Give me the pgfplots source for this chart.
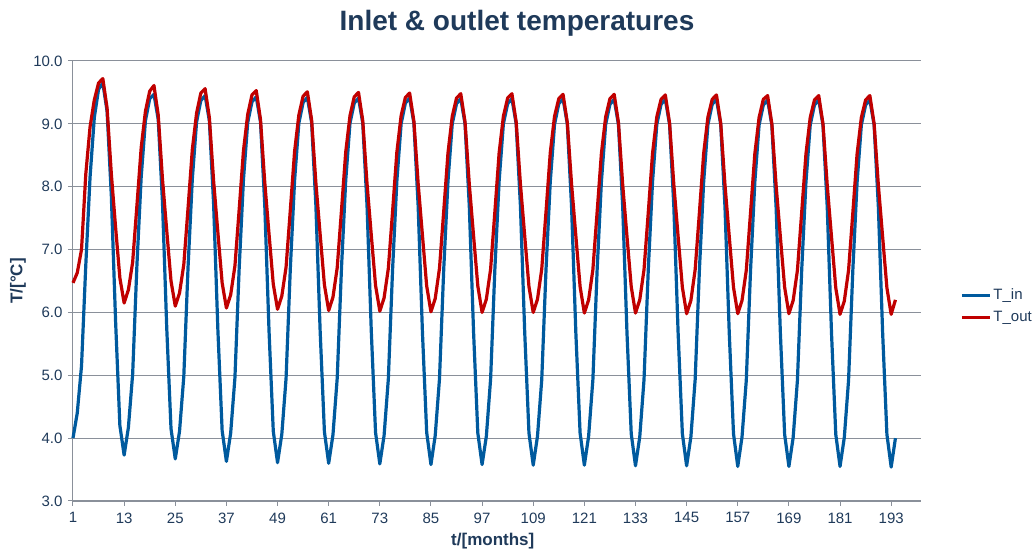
\documentclass[border=0pt]{standalone}
\usepackage{fontspec}
\setmainfont{Liberation Sans}
\usepackage{pgfplots}
\usepackage{pgfplotstable}
\pgfplotsset{compat=1.18}
\definecolor{navy}{HTML}{1F3A5A}
\definecolor{gridgray}{HTML}{8A909A}
\definecolor{tinblue}{HTML}{005A9E}
\definecolor{toutred}{HTML}{C00000}
\pgfplotstableread{
m Tin Tout
1 4.00 6.47
2 4.40 6.63
3 5.15 7.00
4 6.75 8.20
5 8.15 8.95
6 9.10 9.38
7 9.55 9.65
8 9.65 9.72
9 9.20 9.25
10 7.85 8.20
11 5.85 7.35
12 4.20 6.55
13 3.73 6.15
14 4.17 6.36
15 5.02 6.80
16 6.75 7.70
17 8.15 8.62
18 9.05 9.20
19 9.40 9.52
20 9.47 9.61
21 9.07 9.14
22 7.75 8.12
23 5.75 7.30
24 4.15 6.50
25 3.67 6.10
26 4.11 6.31
27 4.98 6.76
28 6.72 7.66
29 8.12 8.59
30 9.03 9.17
31 9.37 9.49
32 9.45 9.56
33 9.05 9.10
34 7.72 8.09
35 5.72 7.27
36 4.12 6.47
37 3.63 6.07
38 4.08 6.28
39 4.96 6.74
40 6.71 7.64
41 8.11 8.57
42 9.02 9.15
43 9.35 9.46
44 9.43 9.53
45 9.03 9.07
46 7.71 8.07
47 5.71 7.25
48 4.11 6.45
49 3.61 6.05
50 4.06 6.26
51 4.95 6.72
52 6.70 7.63
53 8.10 8.56
54 9.01 9.14
55 9.34 9.44
56 9.42 9.51
57 9.02 9.06
58 7.70 8.06
59 5.70 7.24
60 4.10 6.44
61 3.60 6.03
62 4.05 6.24
63 4.95 6.71
64 6.70 7.62
65 8.10 8.55
66 9.01 9.13
67 9.33 9.43
68 9.41 9.50
69 9.01 9.05
70 7.70 8.05
71 5.70 7.23
72 4.09 6.43
73 3.59 6.02
74 4.04 6.23
75 4.94 6.70
76 6.69 7.61
77 8.09 8.55
78 9.00 9.13
79 9.33 9.42
80 9.41 9.49
81 9.01 9.04
82 7.69 8.05
83 5.69 7.23
84 4.09 6.42
85 3.58 6.01
86 4.04 6.22
87 4.94 6.70
88 6.69 7.61
89 8.09 8.54
90 9.00 9.12
91 9.32 9.41
92 9.40 9.48
93 9.00 9.03
94 7.69 8.04
95 5.69 7.22
96 4.08 6.42
97 3.58 6.00
98 4.03 6.21
99 4.94 6.69
100 6.69 7.60
101 8.09 8.54
102 9.00 9.12
103 9.32 9.41
104 9.40 9.48
105 9.00 9.03
106 7.69 8.04
107 5.69 7.22
108 4.08 6.41
109 3.57 6.00
110 4.03 6.21
111 4.93 6.69
112 6.68 7.60
113 8.08 8.54
114 8.99 9.12
115 9.32 9.40
116 9.40 9.47
117 9.00 9.02
118 7.68 8.04
119 5.68 7.22
120 4.08 6.41
121 3.57 5.99
122 4.03 6.20
123 4.93 6.68
124 6.68 7.60
125 8.08 8.53
126 8.99 9.11
127 9.31 9.40
128 9.39 9.47
129 8.99 9.02
130 7.68 8.03
131 5.68 7.21
132 4.07 6.41
133 3.56 5.99
134 4.02 6.20
135 4.93 6.68
136 6.68 7.59
137 8.08 8.53
138 8.99 9.11
139 9.31 9.39
140 9.39 9.46
141 8.99 9.01
142 7.68 8.03
143 5.68 7.21
144 4.07 6.40
145 3.56 5.98
146 4.02 6.19
147 4.93 6.68
148 6.68 7.59
149 8.08 8.53
150 8.99 9.11
151 9.31 9.39
152 9.39 9.46
153 8.99 9.01
154 7.68 8.03
155 5.68 7.21
156 4.07 6.40
157 3.55 5.98
158 4.02 6.19
159 4.92 6.67
160 6.67 7.59
161 8.07 8.52
162 8.98 9.10
163 9.30 9.39
164 9.38 9.45
165 8.98 9.00
166 7.67 8.02
167 5.67 7.20
168 4.06 6.40
169 3.55 5.98
170 4.01 6.19
171 4.92 6.67
172 6.67 7.59
173 8.07 8.52
174 8.98 9.10
175 9.30 9.38
176 9.38 9.45
177 8.98 9.00
178 7.67 8.02
179 5.67 7.20
180 4.06 6.39
181 3.55 5.97
182 4.01 6.18
183 4.92 6.67
184 6.67 7.58
185 8.07 8.52
186 8.98 9.10
187 9.30 9.38
188 9.38 9.45
189 8.98 9.00
190 7.67 8.02
191 5.67 7.20
192 4.06 6.39
193 3.54 5.97
194 4.00 6.20
}\datatable
\begin{document}
\begin{tikzpicture}
\path[use as bounding box] (-73pt,-50pt) rectangle (961pt,501pt);
\begin{axis}[
  at={(0pt,0pt)}, anchor=south west,
  scale only axis,
  width=848pt, height=440pt,
  xmin=1, xmax=200,
  ymin=3, ymax=10,
  xtick={1,13,...,193},
  ytick={3,4,...,10},
  axis x line*=bottom,
  axis y line*=left,
  x axis line style={draw=gridgray, line width=1.8pt},
  y axis line style={draw=gridgray, line width=1pt},
  tick align=outside,
  major tick length=5pt,
  every tick/.style={draw=gridgray, line width=1pt},
  ymajorgrids,
  major grid style={draw=gridgray, line width=1pt},
  tick label style={font=\fontsize{15}{18}\selectfont, text=navy},
  xticklabel style={yshift=-3pt},
  yticklabel style={xshift=-2pt},
  /pgf/number format/assume math mode=true,
  yticklabel={\pgfmathprintnumber[fixed,fixed zerofill,precision=1]{\tick}},
  title={Inlet \& outlet temperatures},
  title style={at={(axis description cs:0.5236,1)}, anchor=base, yshift=24pt,
    font=\fontsize{28}{32}\selectfont\bfseries, text=navy},
  xlabel={t/[months]},
  xlabel style={font=\fontsize{17}{20}\selectfont\bfseries, text=navy, at={(axis description cs:0.495,0)}, anchor=base, yshift=-45pt},
  ylabel={T/[°C]},
  ylabel style={font=\fontsize{17}{20}\selectfont\bfseries, text=navy, at={(axis description cs:-0.0649,0.5)}, anchor=center, rotate=0},
  legend style={at={(axis description cs:1.0425,0.443)}, anchor=west, draw=none, fill=none,
    font=\fontsize{15}{18}\selectfont, text=navy, row sep=6pt,
    /tikz/every even column/.append style={column sep=2pt}},
  legend cell align=left,
  legend image code/.code={\draw[#1, line width=3.2pt] (0pt,0pt) -- (28pt,0pt);},
  clip=false,
]
\addplot[tinblue, line width=3.2pt, line join=round, mark=none] table[x=m, y=Tin] {\datatable};
\addlegendentry{T\_in}
\addplot[toutred, line width=3.2pt, line join=round, mark=none] table[x=m, y=Tout] {\datatable};
\addlegendentry{T\_out}
\end{axis}
\end{tikzpicture}
\end{document}
